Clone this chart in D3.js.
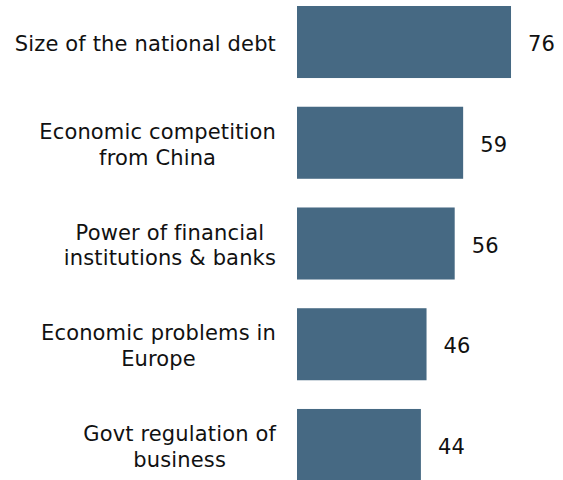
<!DOCTYPE html>
<html>
<head>
<meta charset="utf-8">
<script src="https://cdn.jsdelivr.net/npm/d3@7"></script>
<style>
  html, body { margin: 0; padding: 0; background: #fff; }
  svg { display: block; }
  text { font-family: "DejaVu Sans", Verdana, sans-serif; fill: #111; }
</style>
</head>
<body>
<svg id="chart" width="563" height="480"></svg>
<script>
// Share of respondents naming each issue as a major threat (%)
const categories = [
  "Size of the national debt",
  "Economic competition from China",
  "Power of financial institutions & banks",
  "Economic problems in Europe",
  "Govt regulation of business"
];
// How each category label wraps onto lines
const labelLines = [
  ["Size of the national debt"],
  ["Economic competition", "from China"],
  ["Power of financial", "institutions & banks"],
  ["Economic problems in", "Europe"],
  ["Govt regulation of", "business"]
];
const values = [76, 59, 56, 46, 44];

const svg = d3.select("#chart");
const barColor = "#466983";
const fontSize = 21;
const letterSpacing = 0.15;
const lineHeight = 25.5;
const baselineShift = 9;   // baseline offset below the bar's centre line
const labelRight = 276;    // right edge of the category label block

const x = d3.scaleLinear().domain([0, 100]).range([297, 578.6]);
const y = d3.scaleBand().domain(categories).range([6, 481]).paddingInner(0.285).paddingOuter(0);

const rows = categories.map((c, i) => ({ cat: c, lines: labelLines[i], value: values[i] }));

// Bars
svg.append("g").selectAll("rect")
  .data(rows)
  .join("rect")
  .attr("x", x(0))
  .attr("y", d => y(d.cat))
  .attr("width", d => x(d.value) - x(0))
  .attr("height", y.bandwidth())
  .attr("fill", barColor);

// Value labels to the right of each bar
svg.append("g").selectAll("text")
  .data(rows)
  .join("text")
  .attr("x", d => x(d.value) + 17)
  .attr("y", d => y(d.cat) + y.bandwidth() / 2 + baselineShift)
  .attr("font-size", fontSize)
  .attr("letter-spacing", letterSpacing)
  .text(d => d.value);

// Category labels: lines centred on each other, block right-aligned next to the bars
const labels = svg.append("g").selectAll("text")
  .data(rows)
  .join("text")
  .attr("text-anchor", "middle")
  .attr("font-size", fontSize)
  .attr("letter-spacing", letterSpacing)
  .attr("y", d => y(d.cat) + y.bandwidth() / 2 + baselineShift - (d.lines.length - 1) * lineHeight / 2);

labels.selectAll("tspan")
  .data(d => d.lines.map((t, i) => ({ t, i })))
  .join("tspan")
  .attr("dy", d => d.i === 0 ? 0 : lineHeight)
  .text(d => d.t);

labels.each(function () {
  const spans = d3.select(this).selectAll("tspan");
  let maxW = 0;
  spans.each(function () { maxW = Math.max(maxW, this.getComputedTextLength()); });
  spans.attr("x", labelRight - maxW / 2);
});
</script>
</body>
</html>
